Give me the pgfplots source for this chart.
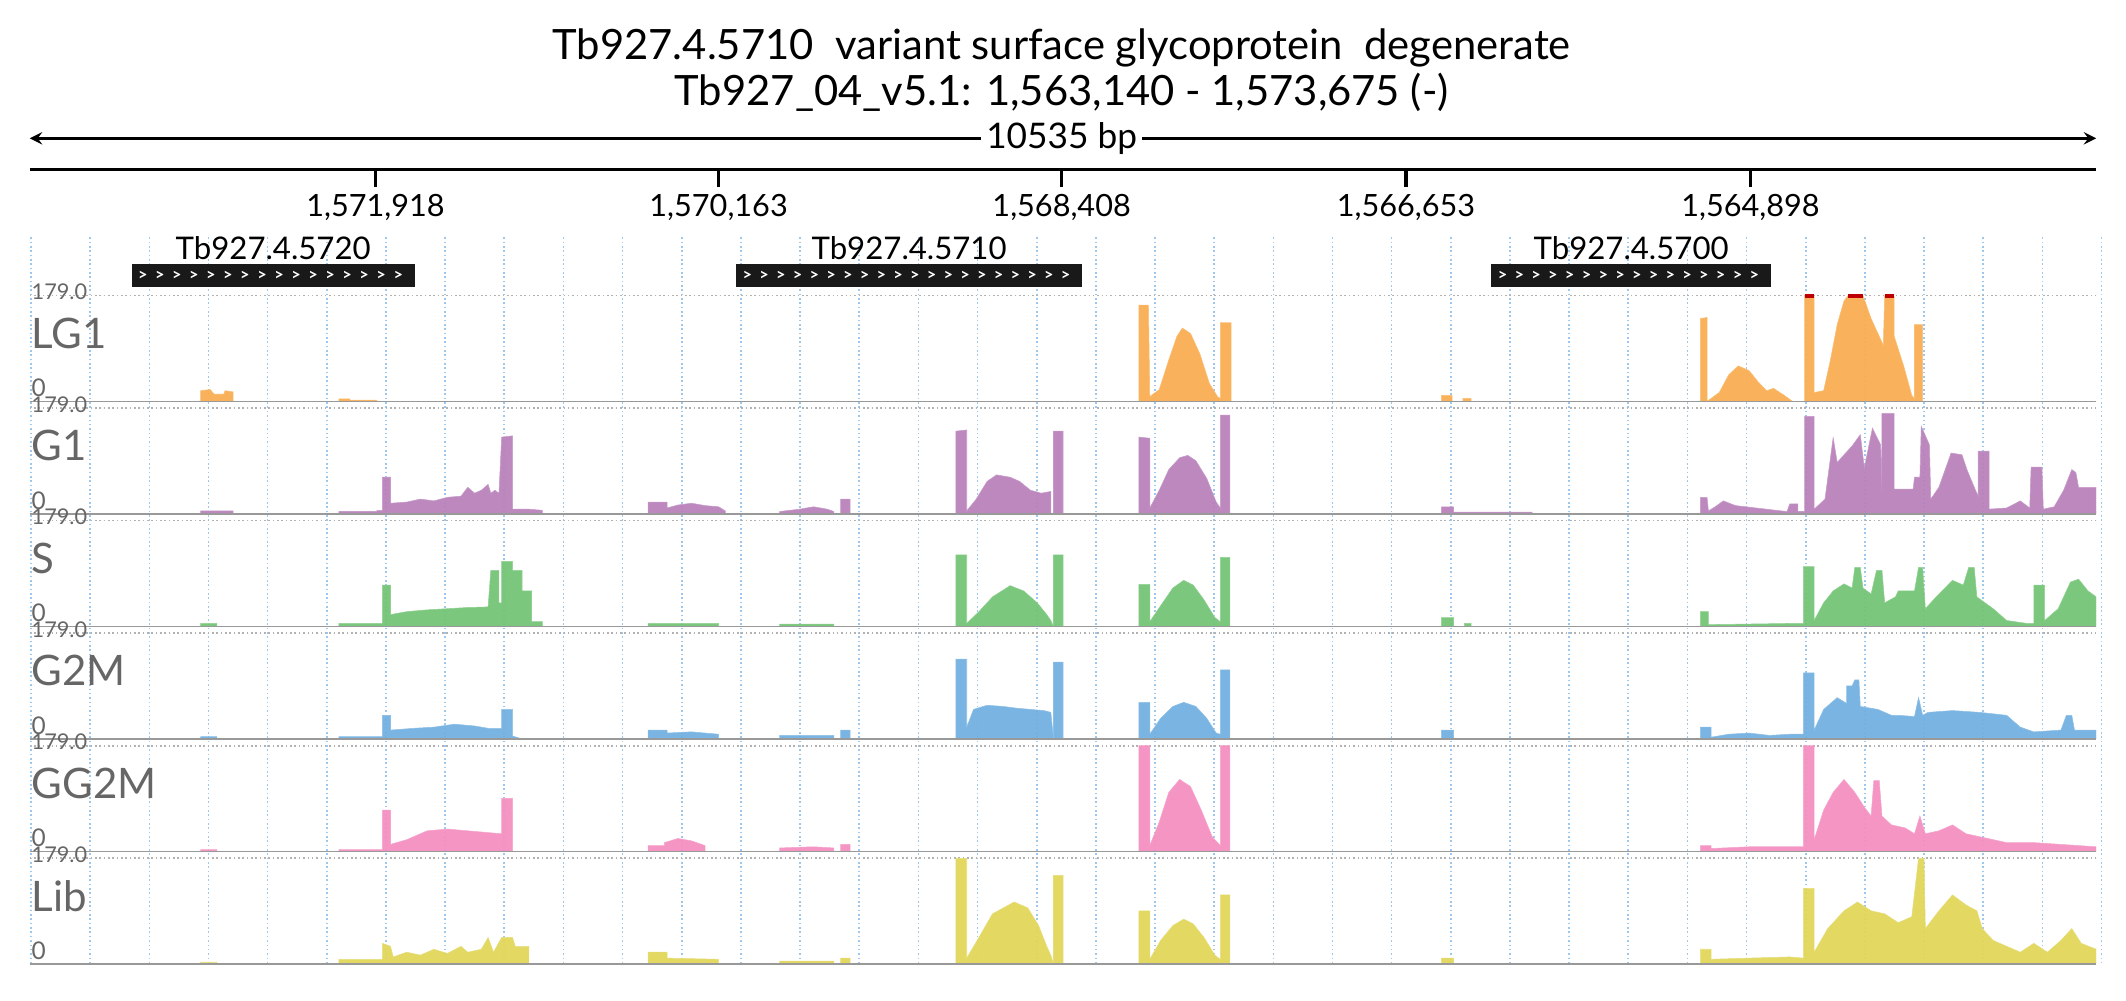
\documentclass[border=0pt]{standalone}
\usepackage{pgfplots}
\pgfplotsset{compat=1.18}
\usepackage{fontspec}
\setmainfont{Lato}
\definecolor{cLG}{HTML}{F9AE52}
\definecolor{cG}{HTML}{B882BB}
\definecolor{cS}{HTML}{74C476}
\definecolor{cGM}{HTML}{72B0E0}
\definecolor{cGG}{HTML}{F48FC0}
\definecolor{cLib}{HTML}{E0D65A}
\definecolor{lab}{HTML}{666666}
\definecolor{grid}{HTML}{9CC8EE}
\newcommand{\track}[4]{%
  \pgfmathsetmacro{\base}{#1+78}
  \draw[gray!60, densely dotted, line width=0.6pt] (22,#1) -- (1546,#1);
  \begin{axis}[at={(22*0.5pt,-\base*0.5pt)}, anchor=south west, width=762pt, height=39pt,
    scale only axis, xmin=22, xmax=1546, ymin=0, ymax=179, hide axis, clip=true]
    \addplot[fill=#2, draw=#2!80, line width=0.2pt, fill opacity=0.95] coordinates {#4} \closedcycle;
  \end{axis}
  \draw[gray!80, line width=0.6pt] (22,\base) -- (1546,\base);
  \node[anchor=north west, inner sep=0pt, text=lab, font=\fontsize{8}{8}\selectfont] at (23,#1-9) {179.0};
  \node[anchor=north west, inner sep=0pt, text=lab, font=\fontsize{15.5}{15.5}\selectfont] at (23,#1+16) {#3};
  \node[anchor=south west, inner sep=0pt, text=lab, font=\fontsize{9}{9}\selectfont] at (23,\base-3) {0};
}
\begin{document}
\begin{tikzpicture}[x=0.5pt,y=-0.5pt]
\path[use as bounding box] (0,0) rectangle (1568,737.6);
\foreach \k in {0,...,35} {
  \draw[grid, densely dotted, line width=0.6pt] ({22.9+43.63*\k},175) -- ({22.9+43.63*\k},711);
}
\node[font=\fontsize{15.4}{15.4}\selectfont] at (783,35) {Tb927.4.5710\ \ variant surface glycoprotein\ \ degenerate};
\node[font=\fontsize{15.4}{15.4}\selectfont] at (783,68) {Tb927\_04\_v5.1: 1,563,140 - 1,573,675 (-)};
\draw[<->, >=stealth, line width=1pt] (22,102) -- (1546,102);
\node[fill=white, inner sep=2pt, font=\fontsize{13}{13}\selectfont] at (783,102) {10535 bp};
\draw[line width=1.3pt] (22,125) -- (1546,125);
\foreach \x/\l in {277/{1,571,918},530/{1,570,163},783/{1,568,408},1037/{1,566,653},1291/{1,564,898}} {
  \draw[line width=1.2pt] (\x,125) -- (\x,138);
  \node[font=\fontsize{11.3}{11.3}\selectfont] at (\x,153) {\l};
}
\foreach \a/\b/\n/\c in {97/306/16/Tb927.4.5720,543/798/20/Tb927.4.5710,1100/1306/16/Tb927.4.5700} {
  \fill[black!90] (\a,195) rectangle (\b,212);
  \node[font=\fontsize{11.5}{11.5}\selectfont] at ({(\a+\b)/2},183) {\c};
  \pgfmathsetmacro{\stp}{(\b-\a-8)/\n}
  \foreach \i in {1,...,\n} {
    \node[text=white, inner sep=0pt, font=\fontsize{6}{6}\bfseries] at ({\a+\stp*(\i-0.5)+2},203.5) {>};
  }
}
\track{218}{cLG}{LG1}{(22,0)(148,0)(148,18)(155,20)(158,12)(165,12)(166,18)(172,16)(172,0)(250,0)(250,4)(258,4)(258,2)(278,2)(278,0)(840,0)(840,163)(847,163)(848,8)(855,20)(862,70)(868,110)(872,124)(878,115)(885,80)(892,30)(898,8)(900,5)(900,133)(908,133)(908,0)(1063,0)(1063,10)(1071,10)(1071,0)(1079,0)(1079,5)(1085,5)(1085,0)(1254,0)(1254,140)(1259,142)(1259,0)(1262,5)(1268,15)(1275,45)(1282,60)(1290,52)(1297,32)(1303,18)(1308,22)(1316,10)(1322,0)(1331,0)(1331,179)(1338,179)(1338,15)(1345,18)(1350,70)(1355,130)(1360,170)(1363,179)(1374,179)(1380,140)(1389,95)(1390,179)(1397,179)(1397,110)(1404,60)(1410,10)(1412,5)(1412,130)(1418,130)(1418,0)(1546,0)}
\begin{axis}[at={(22*0.5pt,-296*0.5pt)}, anchor=south west, width=762pt, height=39pt,
    scale only axis, xmin=22, xmax=1546, ymin=0, ymax=179, hide axis, clip=false]
  \addplot[red!75!black, line width=1.5pt] coordinates {(1331,178)(1338,178)};
  \addplot[red!75!black, line width=1.5pt] coordinates {(1363,178)(1374,178)};
  \addplot[red!75!black, line width=1.5pt] coordinates {(1390,178)(1397,178)};
\end{axis}
\track{301}{cG}{G1}{(22,0)(148,0)(148,5)(172,5)(172,0)(250,0)(250,4)(278,4)(278,6)(282,6)(282,62)(288,62)(288,18)(300,20)(310,25)(320,22)(330,28)(340,30)(345,45)(350,35)(355,40)(360,50)(362,35)(365,40)(368,35)(370,130)(378,132)(378,8)(390,8)(400,6)(400,0)(478,0)(478,20)(492,20)(492,10)(500,15)(510,18)(520,14)(530,12)(535,5)(535,0)(575,0)(575,4)(590,8)(600,12)(610,8)(615,4)(615,0)(620,0)(620,25)(627,25)(627,0)(705,0)(705,140)(713,142)(713,5)(720,25)(728,55)(735,66)(745,62)(752,55)(760,40)(768,35)(775,38)(775,0)(777,0)(777,140)(784,140)(784,0)(840,0)(840,130)(848,128)(848,10)(855,40)(862,75)(870,95)(876,99)(882,90)(890,60)(897,20)(900,10)(900,167)(907,167)(907,0)(1063,0)(1063,12)(1072,12)(1072,3)(1130,3)(1130,0)(1254,0)(1254,28)(1259,28)(1260,5)(1265,12)(1271,22)(1280,14)(1295,10)(1310,6)(1318,4)(1320,17)(1326,17)(1326,4)(1331,4)(1331,165)(1338,165)(1338,8)(1346,25)(1352,129)(1355,87)(1360,100)(1366,115)(1372,134)(1375,78)(1381,145)(1387,117)(1388,39)(1388,170)(1397,170)(1397,42)(1411,42)(1412,62)(1416,62)(1417,148)(1423,117)(1424,25)(1430,45)(1439,103)(1447,100)(1451,73)(1457,40)(1459,30)(1459,106)(1467,106)(1467,8)(1480,10)(1490,22)(1497,10)(1498,79)(1506,79)(1507,8)(1515,12)(1522,40)(1528,75)(1531,70)(1533,45)(1546,45)(1546,0)}
\track{384}{cS}{S}{(22,0)(148,0)(148,5)(160,5)(160,0)(250,0)(250,5)(282,5)(282,70)(288,70)(288,20)(300,25)(315,28)(330,30)(345,32)(360,33)(362,95)(368,95)(368,40)(370,40)(370,110)(378,110)(378,95)(385,95)(385,60)(392,60)(392,8)(400,8)(400,0)(478,0)(478,5)(530,5)(530,0)(575,0)(575,4)(615,4)(615,0)(705,0)(705,121)(713,121)(713,5)(722,25)(732,50)(745,69)(755,60)(765,40)(772,20)(775,10)(777,0)(777,121)(784,121)(784,0)(840,0)(840,71)(848,71)(848,8)(856,35)(865,65)(873,78)(880,70)(888,45)(896,15)(900,8)(900,117)(907,117)(907,0)(1063,0)(1063,15)(1072,15)(1072,0)(1080,0)(1080,5)(1085,5)(1085,0)(1254,0)(1254,25)(1260,25)(1260,3)(1320,5)(1330,5)(1330,101)(1338,101)(1338,10)(1345,40)(1352,60)(1360,72)(1366,65)(1368,100)(1372,100)(1374,65)(1380,55)(1384,95)(1388,95)(1390,40)(1398,50)(1400,60)(1412,60)(1415,100)(1418,100)(1420,30)(1428,50)(1440,78)(1448,70)(1452,100)(1456,100)(1458,50)(1470,30)(1480,10)(1495,5)(1500,5)(1500,70)(1508,70)(1508,10)(1518,30)(1527,75)(1533,80)(1540,60)(1546,50)(1546,0)}
\track{467}{cGM}{G2M}{(22,0)(148,0)(148,4)(160,4)(160,0)(250,0)(250,4)(282,4)(282,40)(288,40)(288,15)(305,18)(320,20)(335,25)(350,22)(360,18)(370,18)(370,50)(378,50)(378,5)(385,0)(478,0)(478,15)(492,15)(492,10)(510,12)(530,8)(530,0)(575,0)(575,6)(615,6)(615,0)(620,0)(620,15)(627,15)(627,0)(705,0)(705,135)(713,135)(713,20)(718,50)(728,57)(740,55)(750,52)(760,50)(770,48)(775,45)(777,0)(777,130)(784,130)(784,0)(840,0)(840,62)(848,62)(848,8)(856,35)(865,55)(873,62)(882,55)(890,35)(897,10)(900,8)(900,117)(907,117)(907,0)(1063,0)(1063,15)(1072,15)(1072,0)(1254,0)(1254,20)(1262,20)(1262,3)(1275,8)(1290,10)(1305,6)(1320,8)(1330,8)(1330,112)(1338,112)(1338,15)(1345,50)(1355,70)(1362,60)(1362,90)(1366,90)(1368,100)(1371,100)(1372,55)(1385,50)(1395,40)(1400,40)(1412,38)(1415,70)(1418,40)(1422,45)(1440,48)(1460,45)(1480,40)(1490,20)(1500,12)(1520,15)(1524,40)(1528,40)(1530,15)(1546,15)(1546,0)}
\track{550}{cGG}{GG2M}{(22,0)(148,0)(148,3)(160,3)(160,0)(250,0)(250,3)(282,3)(282,70)(288,70)(288,12)(300,20)(315,35)(330,38)(345,35)(360,32)(370,30)(370,90)(378,90)(378,0)(478,0)(478,10)(490,10)(490,15)(500,22)(510,18)(520,10)(520,0)(575,0)(575,6)(600,8)(615,6)(615,0)(620,0)(620,12)(627,12)(627,0)(840,0)(840,179)(848,179)(848,10)(855,50)(862,100)(870,122)(878,110)(886,70)(894,25)(900,10)(900,179)(907,179)(907,0)(1254,0)(1254,10)(1262,10)(1262,5)(1290,8)(1320,8)(1330,8)(1330,179)(1338,179)(1338,20)(1345,70)(1352,100)(1360,122)(1368,100)(1375,75)(1380,60)(1382,120)(1386,120)(1388,60)(1395,45)(1405,40)(1412,30)(1416,60)(1420,30)(1430,35)(1440,45)(1450,30)(1460,25)(1480,15)(1500,15)(1520,12)(1546,8)(1546,0)}
\track{633}{cLib}{Lib}{(22,0)(148,0)(148,3)(160,3)(160,0)(250,0)(250,8)(282,8)(282,35)(288,30)(290,12)(300,20)(310,15)(320,25)(330,18)(340,30)(345,20)(355,25)(360,45)(364,20)(370,45)(378,45)(380,30)(390,30)(390,0)(478,0)(478,20)(492,20)(492,10)(530,8)(530,0)(575,0)(575,5)(615,5)(615,0)(620,0)(620,10)(627,10)(627,0)(705,0)(705,179)(713,179)(713,10)(722,45)(732,85)(748,105)(758,95)(766,65)(772,30)(775,15)(777,0)(777,150)(784,150)(784,0)(840,0)(840,90)(848,90)(848,8)(856,40)(865,65)(873,76)(880,68)(888,45)(896,15)(900,8)(900,117)(907,117)(907,0)(1063,0)(1063,10)(1072,10)(1072,0)(1254,0)(1254,25)(1262,25)(1262,8)(1290,10)(1320,12)(1330,10)(1330,128)(1338,128)(1338,20)(1348,60)(1360,90)(1370,105)(1380,90)(1390,85)(1400,70)(1410,80)(1415,179)(1419,179)(1420,60)(1430,90)(1440,117)(1450,100)(1458,90)(1462,60)(1470,40)(1480,30)(1490,20)(1500,35)(1510,20)(1520,40)(1528,60)(1535,35)(1546,25)(1546,0)}
\end{tikzpicture}
\end{document}
